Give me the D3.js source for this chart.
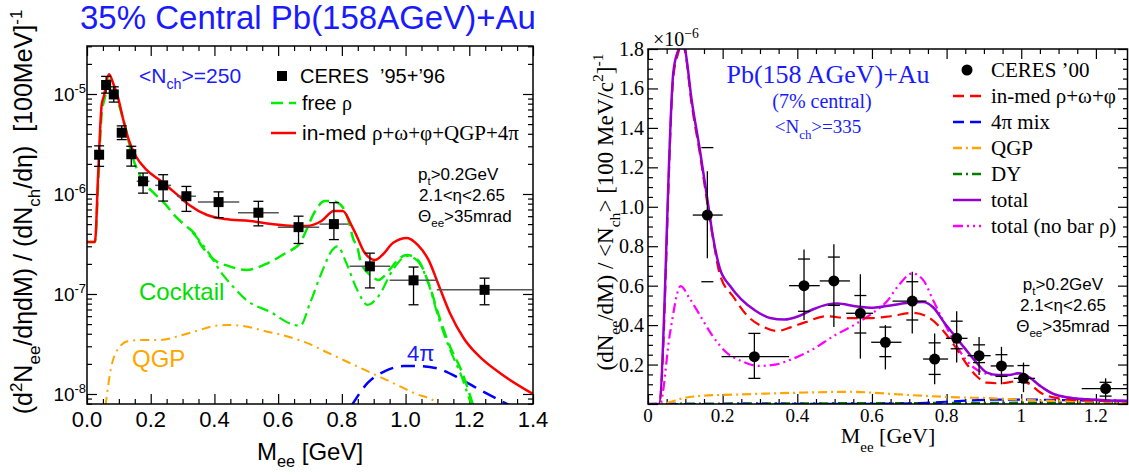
<!DOCTYPE html>
<html><head><meta charset="utf-8">
<script src="https://cdn.jsdelivr.net/npm/d3@7"></script>
<style>body{margin:0;background:#fff}svg{display:block}text{white-space:pre}</style>
</head><body><svg id="c" width="1129" height="475"></svg>
<script>
// ---------------- LEFT PANEL DATA (log scale) ----------------
const leftMajorX = [0, 0.2, 0.4, 0.6, 0.8, 1.0, 1.2, 1.4];
const leftMajorXLabels = ["0.0","0.2","0.4","0.6","0.8","1.0","1.2","1.4"];
const leftMajorY = [1e-8, 1e-7, 1e-6, 1e-5];
const leftMajorYExp = ["-8","-7","-6","-5"];

const ceresLX   = [0.038,0.060,0.084,0.109,0.139,0.176,0.239,0.312,0.413,0.538,0.664,0.775,0.888,1.025,1.248];
const ceresLY   = [2.47e-6,1.23e-5,9.9e-6,4.1e-6,2.5e-6,1.34e-6,1.22e-6,9.5e-7,8.3e-7,6.5e-7,4.66e-7,5.0e-7,1.89e-7,1.37e-7,1.10e-7];
const ceresLXerr= [0,0,0,0,0,0.02,0.025,0.03,0.065,0.064,0.065,0.045,0.064,0.075,0.15];
const ceresLLo  = [1.89e-6,1.02e-5,8.3e-6,3.5e-6,1.9e-6,1.02e-6,8.5e-7,6.7e-7,5.8e-7,4.8e-7,3.2e-7,3.5e-7,1.15e-7,7.8e-8,7.8e-8];
const ceresLHi  = [3.03e-6,1.5e-5,1.18e-5,4.8e-6,3.0e-6,1.62e-6,1.56e-6,1.19e-6,1.05e-6,8.45e-7,6.0e-7,8.2e-7,2.56e-7,1.86e-7,1.44e-7];

const redLX = [0,0.025,0.035,0.046,0.053,0.069,0.083,0.097,0.114,0.131,0.153,0.187,0.232,0.288,0.321,0.377,0.433,0.512,0.579,0.646,0.691,0.736,0.775,0.803,0.831,0.848,0.870,0.904,0.93,0.96,1.005,1.038,1.072,1.105,1.139,1.184,1.24,1.296,1.4];
const redLY = [3.31e-7,3.31e-7,1.58e-6,7.76e-6,9.55e-6,1.58e-5,1.26e-5,9.33e-6,5.5e-6,3.47e-6,2.4e-6,1.74e-6,1.35e-6,9.55e-7,7.76e-7,6.17e-7,5.62e-7,5.37e-7,5.01e-7,4.79e-7,4.79e-7,5.37e-7,6.76e-7,6.76e-7,4.79e-7,3.72e-7,2.63e-7,2.19e-7,2.51e-7,3.24e-7,3.63e-7,3.09e-7,2.19e-7,1.2e-7,6.46e-8,3.55e-8,2.24e-8,1.62e-8,1.0e-8];

const freeRhoX = [0,0.025,0.035,0.046,0.055,0.07,0.085,0.10,0.12,0.142,0.176,0.21,0.243,0.277,0.31,0.338,0.355,0.40,0.445,0.50,0.568,0.624,0.669,0.69,0.713,0.747,0.77,0.797,0.82,0.837,0.848,0.86,0.893,0.915,0.949,0.982,1.005,1.038,1.072,1.105,1.139,1.173,1.206,1.22];
const freeRhoY = [3.31e-7,3.31e-7,1.26e-6,6.3e-6,8.9e-6,1.38e-5,1.12e-5,7.9e-6,4.7e-6,2.4e-6,1.35e-6,1.02e-6,8.1e-7,6.0e-7,4.8e-7,4.0e-7,3.2e-7,2.19e-7,1.9e-7,1.74e-7,2.04e-7,2.57e-7,3.24e-7,4.47e-7,6.46e-7,8.5e-7,8.5e-7,7.76e-7,5.5e-7,3.47e-7,3.02e-7,2.04e-7,1.51e-7,1.38e-7,1.74e-7,2.29e-7,2.45e-7,2.19e-7,1.29e-7,6.0e-8,3.0e-8,1.78e-8,8.9e-9,6.3e-9];

const cocktailX = [0.33,0.38,0.42,0.46,0.50,0.58,0.635,0.669,0.70,0.736,0.77,0.786,0.814,0.848,0.881,0.915,0.96,1.005,1.038,1.072,1.105,1.139,1.173,1.206,1.22];
const cocktailY = [4.17e-7,2.63e-7,1.66e-7,1.17e-7,8.7e-8,6.5e-8,5.1e-8,4.8e-8,8.1e-8,1.62e-7,2.75e-7,3.0e-7,2.04e-7,1.1e-7,7.8e-8,9.5e-8,1.74e-7,2.4e-7,2.14e-7,1.26e-7,5.6e-8,2.8e-8,1.58e-8,7.9e-9,6.0e-9];

const qgpLX = [0.058,0.075,0.097,0.131,0.176,0.232,0.288,0.344,0.40,0.445,0.49,0.557,0.624,0.69,0.758,0.825,0.893,0.96,1.027,1.10,1.12];
const qgpLY = [7.6e-9,1.78e-8,2.82e-8,3.39e-8,3.47e-8,3.47e-8,3.8e-8,4.27e-8,4.79e-8,4.9e-8,4.79e-8,4.27e-8,3.8e-8,3.24e-8,2.57e-8,2.04e-8,1.62e-8,1.29e-8,1.02e-8,8.1e-9,7.1e-9];

const fourPiX = [0.83,0.881,0.937,0.993,1.049,1.105,1.173,1.229,1.313,1.33];
const fourPiY = [7.6e-9,1.29e-8,1.7e-8,1.9e-8,1.9e-8,1.78e-8,1.41e-8,1.12e-8,8.1e-9,7.6e-9];

// ---------------- RIGHT PANEL DATA (linear, x 1e-6) ----------------
const rightMajorX = [0, 0.2, 0.4, 0.6, 0.8, 1, 1.2];
const rightMajorXLabels = ["0","0.2","0.4","0.6","0.8","1","1.2"];
const rightMajorY = [0.2,0.4,0.6,0.8,1.0,1.2,1.4,1.6,1.8];
const rightMajorYLabels = ["0.2","0.4","0.6","0.8","1.0","1.2","1.4","1.6","1.8"];

const ceresRX  = [0.159,0.285,0.418,0.498,0.569,0.636,0.708,0.768,0.827,0.887,0.947,1.006,1.226];
const ceresRY  = [0.958,0.24,0.60,0.624,0.46,0.313,0.522,0.228,0.333,0.245,0.193,0.13,0.078];
const ceresRXLo= [0.12,0.197,0.378,0.46,0.531,0.598,0.655,0.737,0.798,0.856,0.918,0.98,1.162];
const ceresRXHi= [0.20,0.378,0.46,0.541,0.603,0.679,0.746,0.804,0.856,0.918,0.98,1.037,1.29];
const ceresRLo = [0.739,0.13,0.426,0.39,0.23,0.175,0.358,0.10,0.21,0.147,0.10,0.06,0.02];
const ceresRHi = [1.18,0.358,0.784,0.81,0.658,0.40,0.67,0.358,0.47,0.34,0.29,0.21,0.13];
const ceresRSysLo = [0.62,0.13,0.47,0.50,0.36,0.24,0.426,0.15,0.28,0.21,0.14,0.11,0.04];
const ceresRSysHi = [1.30,0.358,0.735,0.745,0.55,0.39,0.62,0.31,0.42,0.30,0.25,0.195,0.11];

const totalX = [0,0.029,0.068,0.081,0.09,0.099,0.117,0.139,0.162,0.173,0.192,0.22,0.25,0.29,0.327,0.365,0.403,0.441,0.479,0.508,0.555,0.603,0.65,0.698,0.736,0.765,0.794,0.822,0.851,0.88,0.908,0.937,0.966,0.994,1.023,1.052,1.08,1.128,1.176,1.224,1.29];
const totalY = [0,0,1.685,1.795,1.84,1.80,1.54,1.288,1.00,0.86,0.69,0.598,0.53,0.47,0.436,0.428,0.445,0.479,0.504,0.51,0.496,0.488,0.50,0.513,0.517,0.488,0.412,0.345,0.277,0.21,0.159,0.147,0.147,0.156,0.133,0.09,0.057,0.032,0.024,0.019,0.015];

const inmedX = [0,0.03,0.068,0.081,0.09,0.099,0.117,0.139,0.162,0.175,0.192,0.23,0.27,0.31,0.346,0.384,0.422,0.479,0.536,0.593,0.65,0.708,0.746,0.784,0.822,0.851,0.88,0.908,0.946,0.994,1.023,1.052,1.09,1.147,1.29];
const inmedY = [0,0,1.66,1.78,1.83,1.79,1.52,1.27,0.98,0.83,0.66,0.54,0.44,0.39,0.37,0.39,0.415,0.445,0.435,0.435,0.445,0.462,0.445,0.386,0.293,0.21,0.142,0.108,0.105,0.117,0.10,0.057,0.032,0.02,0.013];

const noBarX = [0,0.032,0.059,0.0877,0.11,0.135,0.173,0.211,0.25,0.297,0.345,0.384,0.441,0.498,0.555,0.603,0.641,0.67,0.708,0.736,0.765,0.794,0.822,0.851,0.88,0.908,0.937,0.966,0.994,1.023,1.052,1.08,1.128,1.176,1.224,1.29];
const noBarY = [0,0,0.36,0.598,0.54,0.463,0.345,0.26,0.218,0.193,0.201,0.226,0.277,0.345,0.404,0.463,0.522,0.598,0.662,0.632,0.522,0.41,0.31,0.226,0.175,0.153,0.147,0.147,0.156,0.133,0.09,0.057,0.032,0.024,0.019,0.015];

const qgpRX = [0,0.046,0.093,0.141,0.255,0.398,0.542,0.637,0.733,0.829,0.924,1.02,1.115,1.211,1.29];
const qgpRY = [0,0.004,0.029,0.041,0.049,0.057,0.062,0.053,0.042,0.034,0.029,0.02,0.015,0.012,0.01];

const mix4piX = [0,0.5,0.65,0.746,0.841,0.937,1.032,1.128,1.29];
const mix4piY = [0,0.0005,0.002,0.006,0.016,0.022,0.022,0.019,0.015];

const dyX = [0,0.1,0.3,0.5,0.7,0.9,1.1,1.29];
const dyY = [0,0.002,0.003,0.004,0.005,0.006,0.007,0.007];

// ---------------- drawing ----------------
const svg = d3.select("#c");
const SANS = "'Liberation Sans', Arial, sans-serif";
const SERIF = "'Liberation Serif', 'Times New Roman', serif";
const zip = (a, b) => a.map((v, i) => [v, b[i]]);

function rich(g, x, y, parts, o) {
  const t = g.append("text").attr("x", x).attr("y", y)
    .attr("font-family", o.font).attr("font-size", o.size)
    .attr("fill", o.color || "#000").attr("text-anchor", o.anchor || "start");
  if (o.rotate) t.attr("transform", `rotate(${o.rotate},${x},${y})`);
  let cur = 0;
  parts.forEach(p => {
    const [s, k, f] = typeof p === "string" ? [p, "n"] : p;
    const target = k === "sub" ? o.size * (o.subShift || 0.3) : k === "sup" ? -o.size * 0.42 : 0;
    const fs = k === "n" ? o.size : o.size * 0.68;
    const ts = t.append("tspan").attr("dy", target - cur).attr("font-size", fs).text(s);
    if (f) ts.attr("font-family", f);
    cur = target;
  });
  return t;
}

function ticksAxis(g, axisFn, scale, values, size, tr) {
  const a = axisFn(scale).tickValues(values).tickSize(size).tickFormat("");
  const gg = g.append("g").attr("transform", tr).call(a);
  gg.select(".domain").remove();
  gg.selectAll("line").attr("stroke", "#000").attr("stroke-width", 1.2);
}

// ===== LEFT =====
const L = {x0: 87, x1: 533, y0: 46, y1: 404};
const xL = d3.scaleLinear([0, 1.4], [L.x0, L.x1]);
const yL = d3.scaleLog([7.94e-9, 3.02e-5], [L.y1, L.y0]);
const gL = svg.append("g");
svg.append("clipPath").attr("id", "clipL").append("rect")
  .attr("x", L.x0).attr("y", L.y0).attr("width", L.x1 - L.x0).attr("height", L.y1 - L.y0);

const lxMinor = d3.range(0, 1.40001, 0.05).filter(v => Math.abs(v / 0.2 - Math.round(v / 0.2)) > 0.01);
const lyMinor = [];
for (let d = -9; d <= -5; d++) for (let k = 2; k <= 9; k++) { const v = k * Math.pow(10, d); if (v > 7.94e-9 && v < 3.02e-5) lyMinor.push(v); }
ticksAxis(gL, d3.axisBottom, xL, leftMajorX, -10, `translate(0,${L.y1})`);
ticksAxis(gL, d3.axisBottom, xL, lxMinor, -5, `translate(0,${L.y1})`);
ticksAxis(gL, d3.axisTop, xL, leftMajorX, -10, `translate(0,${L.y0})`);
ticksAxis(gL, d3.axisTop, xL, lxMinor, -5, `translate(0,${L.y0})`);
ticksAxis(gL, d3.axisLeft, yL, leftMajorY, -10, `translate(${L.x0},0)`);
ticksAxis(gL, d3.axisLeft, yL, lyMinor, -5, `translate(${L.x0},0)`);
ticksAxis(gL, d3.axisRight, yL, leftMajorY, -10, `translate(${L.x1},0)`);
ticksAxis(gL, d3.axisRight, yL, lyMinor, -5, `translate(${L.x1},0)`);

leftMajorX.forEach((v, i) => gL.append("text").attr("x", xL(v)).attr("y", 427)
  .attr("text-anchor", "middle").attr("font-family", SANS).attr("font-size", 22).text(leftMajorXLabels[i]));
leftMajorY.forEach((v, i) => rich(gL, 86, yL(v) + 7, ["10", [leftMajorYExp[i], "sup"]], {font: SANS, size: 19, anchor: "end"}));

const lineL = d3.line().x(d => xL(d[0])).y(d => yL(d[1])).curve(d3.curveMonotoneX);
const cL = gL.append("g").attr("clip-path", "url(#clipL)");
cL.append("path").attr("d", lineL(zip(qgpLX, qgpLY))).attr("fill", "none").attr("stroke", "#ffa500").attr("stroke-width", 2).attr("stroke-dasharray", "9,5,2,5");
cL.append("path").attr("d", lineL(zip(fourPiX, fourPiY))).attr("fill", "none").attr("stroke", "#0000ff").attr("stroke-width", 2.5).attr("stroke-dasharray", "14,8");
cL.append("path").attr("d", lineL(zip(cocktailX, cocktailY))).attr("fill", "none").attr("stroke", "#00ee00").attr("stroke-width", 2.2).attr("stroke-dasharray", "12,5,3,5");
cL.append("path").attr("d", lineL(zip(freeRhoX, freeRhoY))).attr("fill", "none").attr("stroke", "#00ee00").attr("stroke-width", 2.5).attr("stroke-dasharray", "12,6");
cL.append("path").attr("d", lineL(zip(redLX, redLY))).attr("fill", "none").attr("stroke", "#ff0000").attr("stroke-width", 2.5);

// CERES left points
const pL = cL.append("g");
ceresLX.forEach((x, i) => {
  const cx = xL(x), cy = yL(ceresLY[i]);
  if (ceresLXerr[i] > 0) pL.append("line").attr("x1", xL(x - ceresLXerr[i])).attr("x2", xL(x + ceresLXerr[i])).attr("y1", cy).attr("y2", cy).attr("stroke", "#555").attr("stroke-width", 1.5);
  pL.append("line").attr("x1", cx).attr("x2", cx).attr("y1", yL(ceresLLo[i])).attr("y2", yL(ceresLHi[i])).attr("stroke", "#000").attr("stroke-width", 1.3);
  [ceresLLo[i], ceresLHi[i]].forEach(v => pL.append("line").attr("x1", cx - 5).attr("x2", cx + 5).attr("y1", yL(v)).attr("y2", yL(v)).attr("stroke", "#000").attr("stroke-width", 1.3));
  pL.append("rect").attr("x", cx - 5).attr("y", cy - 5).attr("width", 10).attr("height", 10).attr("fill", "#000");
});
gL.append("rect").attr("x", L.x0).attr("y", L.y0).attr("width", L.x1 - L.x0).attr("height", L.y1 - L.y0)
  .attr("fill", "none").attr("stroke", "#000").attr("stroke-width", 1.5);

// left texts
gL.append("text").attr("x", 80).attr("y", 29).attr("font-family", SANS).attr("font-size", 33).attr("fill", "#1a1aff").text("35% Central Pb(158AGeV)+Au");
rich(gL, 139, 83, ["<N", ["ch", "sub"], ">=250"], {font: SANS, size: 21, color: "#1a1aff"});
gL.append("rect").attr("x", 277).attr("y", 71).attr("width", 10).attr("height", 10).attr("fill", "#000");
gL.append("text").attr("x", 300).attr("y", 83).attr("font-family", SANS).attr("font-size", 20).text("CERES  \u201995+\u201996");
gL.append("line").attr("x1", 271).attr("x2", 296).attr("y1", 103).attr("y2", 103).attr("stroke", "#00ee00").attr("stroke-width", 2.5).attr("stroke-dasharray", "12,6");
rich(gL, 302, 110, ["free ", ["\u03c1", "n", SERIF]], {font: SANS, size: 20});
gL.append("line").attr("x1", 271).attr("x2", 296).attr("y1", 133).attr("y2", 133).attr("stroke", "#ff0000").attr("stroke-width", 2.5);
rich(gL, 302, 140, ["in-med ", ["\u03c1+\u03c9+\u03c6+QGP+4\u03c0", "n", SERIF]], {font: SANS, size: 21});
rich(gL, 418, 180, ["p", ["t", "sub"], ">0.2GeV"], {font: SANS, size: 17});
gL.append("text").attr("x", 419).attr("y", 201).attr("font-family", SANS).attr("font-size", 17).text("2.1<\u03b7<2.65");
rich(gL, 418, 222, ["\u0398", ["ee", "sub"], ">35mrad"], {font: SANS, size: 17});
gL.append("text").attr("x", 139).attr("y", 300).attr("font-family", SANS).attr("font-size", 24).attr("fill", "#00dd00").text("Cocktail");
gL.append("text").attr("x", 132).attr("y", 367).attr("font-family", SANS).attr("font-size", 24).attr("fill", "#ffa500").text("QGP");
gL.append("text").attr("x", 407).attr("y", 361).attr("font-family", SANS).attr("font-size", 22).attr("fill", "#1a1aff").text("4\u03c0");
rich(gL, 310, 460, ["M", ["ee", "sub"], " [GeV]"], {font: SANS, size: 24, anchor: "middle"});
rich(gL, 32, 212, ["(d", ["2", "sup"], "N", ["ee", "sub"], "/d\u03b7dM) / (dN", ["ch", "sub"], "/d\u03b7)  [100MeV]", ["-1", "sup"]],
  {font: SANS, size: 25, anchor: "middle", rotate: -90});

// ===== RIGHT =====
const R = {x0: 648, x1: 1128, y0: 49, y1: 404};
const xR = d3.scaleLinear([0, 1.286], [R.x0, R.x1]);
const yR = d3.scaleLinear([0, 1.8], [R.y1, R.y0]);
const gR = svg.append("g");
svg.append("clipPath").attr("id", "clipR").append("rect")
  .attr("x", R.x0).attr("y", R.y0).attr("width", R.x1 - R.x0).attr("height", R.y1 - R.y0);

const rxMinor = d3.range(0, 1.2861, 0.05).filter(v => Math.abs(v / 0.2 - Math.round(v / 0.2)) > 0.01);
const ryMinor = d3.range(0, 1.8001, 0.05).filter(v => Math.abs(v / 0.2 - Math.round(v / 0.2)) > 0.01);
const ryMajorAll = [0].concat(rightMajorY);
ticksAxis(gR, d3.axisBottom, xR, rightMajorX, -10, `translate(0,${R.y1})`);
ticksAxis(gR, d3.axisBottom, xR, rxMinor, -5, `translate(0,${R.y1})`);
ticksAxis(gR, d3.axisTop, xR, rightMajorX, -10, `translate(0,${R.y0})`);
ticksAxis(gR, d3.axisTop, xR, rxMinor, -5, `translate(0,${R.y0})`);
ticksAxis(gR, d3.axisLeft, yR, ryMajorAll, -10, `translate(${R.x0},0)`);
ticksAxis(gR, d3.axisLeft, yR, ryMinor, -5, `translate(${R.x0},0)`);
ticksAxis(gR, d3.axisRight, yR, ryMajorAll, -10, `translate(${R.x1},0)`);
ticksAxis(gR, d3.axisRight, yR, ryMinor, -5, `translate(${R.x1},0)`);

rightMajorX.forEach((v, i) => gR.append("text").attr("x", xR(v)).attr("y", 422)
  .attr("text-anchor", "middle").attr("font-family", SERIF).attr("font-size", 19).text(rightMajorXLabels[i]));
rightMajorY.forEach((v, i) => gR.append("text").attr("x", 644).attr("y", yR(v) + 7)
  .attr("text-anchor", "end").attr("font-family", SERIF).attr("font-size", 20).text(rightMajorYLabels[i]));
rich(gR, 653, 46, ["\u00d710", ["\u22126", "sup"]], {font: SERIF, size: 20});

const lineR = d3.line().x(d => xR(d[0])).y(d => yR(d[1])).curve(d3.curveMonotoneX);
const cR = gR.append("g").attr("clip-path", "url(#clipR)");
const curvesR = [
  {x: dyX, y: dyY, c: "#008000", w: 2.2, da: "9,4,2,4"},
  {x: mix4piX, y: mix4piY, c: "#0000ff", w: 2.2, da: "12,6"},
  {x: qgpRX, y: qgpRY, c: "#ffa500", w: 2.2, da: "9,4,2,4"},
  {x: noBarX, y: noBarY, c: "#ff00ff", w: 2.2, da: "10,4,2,4,2,4"},
  {x: inmedX, y: inmedY, c: "#ff0000", w: 2.2, da: "11,6"},
  {x: totalX, y: totalY, c: "#9400d3", w: 2.5, da: null}
];
curvesR.forEach(s => {
  const p = cR.append("path").attr("d", lineR(zip(s.x, s.y))).attr("fill", "none").attr("stroke", s.c).attr("stroke-width", s.w);
  if (s.da) p.attr("stroke-dasharray", s.da);
});

const pR = cR.append("g");
ceresRX.forEach((x, i) => {
  const cx = xR(x), cy = yR(ceresRY[i]);
  pR.append("line").attr("x1", xR(ceresRXLo[i])).attr("x2", xR(ceresRXHi[i])).attr("y1", cy).attr("y2", cy).attr("stroke", "#000").attr("stroke-width", 1.3);
  pR.append("line").attr("x1", cx).attr("x2", cx).attr("y1", yR(ceresRLo[i])).attr("y2", yR(ceresRHi[i])).attr("stroke", "#000").attr("stroke-width", 1.3);
  [ceresRSysLo[i], ceresRSysHi[i]].forEach(v => pR.append("line").attr("x1", cx - 6).attr("x2", cx + 6).attr("y1", yR(v)).attr("y2", yR(v)).attr("stroke", "#000").attr("stroke-width", 1.3));
  pR.append("circle").attr("cx", cx).attr("cy", cy).attr("r", 5.5).attr("fill", "#000");
});
gR.append("rect").attr("x", R.x0).attr("y", R.y0).attr("width", R.x1 - R.x0 - 0.5).attr("height", R.y1 - R.y0)
  .attr("fill", "none").attr("stroke", "#000").attr("stroke-width", 1.5);

// right texts
gR.append("text").attr("x", 828).attr("y", 83).attr("text-anchor", "middle").attr("font-family", SERIF).attr("font-size", 26).attr("fill", "#1a1aff").text("Pb(158 AGeV)+Au");
gR.append("text").attr("x", 822).attr("y", 108).attr("text-anchor", "middle").attr("font-family", SERIF).attr("font-size", 20).attr("fill", "#1a1aff").text("(7% central)");
rich(gR, 818, 133, ["<N", ["ch", "sub"], ">=335"], {font: SERIF, size: 19, color: "#1a1aff", anchor: "middle"});

const legR = [
  {t: "CERES \u201900", m: "dot"},
  {t: "in-med \u03c1+\u03c9+\u03c6", c: "#ff0000", da: "11,6"},
  {t: "4\u03c0 mix", c: "#0000ff", da: "11,6"},
  {t: "QGP", c: "#ffa500", da: "9,4,2,4"},
  {t: "DY", c: "#008000", da: "9,4,2,4"},
  {t: "total", c: "#9400d3", da: null},
  {t: "total (no bar \u03c1)", c: "#ff00ff", da: "10,4,2,4,2,4"}
];
legR.forEach((e, i) => {
  const y = 70 + 26 * i;
  if (e.m === "dot") gR.append("circle").attr("cx", 967).attr("cy", y).attr("r", 5.5).attr("fill", "#000");
  else {
    const l = gR.append("line").attr("x1", 953).attr("x2", 981).attr("y1", y).attr("y2", y).attr("stroke", e.c).attr("stroke-width", 2.5);
    if (e.da) l.attr("stroke-dasharray", e.da);
  }
  gR.append("text").attr("x", 991).attr("y", y + 7).attr("font-family", SERIF).attr("font-size", 21).text(e.t);
});
rich(gR, 1063, 290, ["p", ["t", "sub"], ">0.2GeV"], {font: SANS, size: 17, anchor: "middle"});
gR.append("text").attr("x", 1063).attr("y", 311).attr("text-anchor", "middle").attr("font-family", SANS).attr("font-size", 17).text("2.1<\u03b7<2.65");
rich(gR, 1063, 332, ["\u0398", ["ee", "sub"], ">35mrad"], {font: SANS, size: 17, anchor: "middle"});
rich(gR, 888, 443, ["M", ["ee", "sub"], " [GeV]"], {font: SERIF, size: 22, anchor: "middle", subShift: 0.4});
rich(gR, 613, 212, ["(dN", ["ee", "sub"], "/dM) / <N", ["ch", "sub"], "> [100 MeV/c", ["2", "sup"], "]", ["-1", "sup"]],
  {font: SERIF, size: 23, anchor: "middle", rotate: -90});
</script></body></html>
